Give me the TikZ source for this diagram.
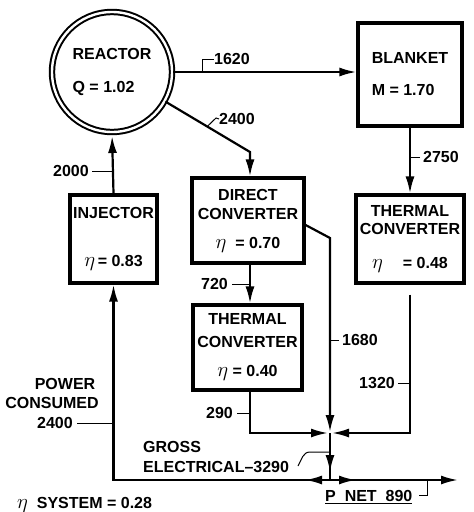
\documentclass[tikz,border=0pt]{standalone}
\usepackage{fontspec}
\setmainfont{Liberation Sans}
\usetikzlibrary{arrows.meta,calc}
\newcommand{\etaS}{{\fontsize{21}{18}\selectfont$\eta$}}
\begin{document}
\begin{tikzpicture}[x=1pt,y=-1pt,
  font=\fontsize{16}{18}\selectfont\bfseries,
  box/.style={draw, line width=3.2pt, inner sep=0pt, align=center},
  conn/.style={line width=2.2pt},
  flowtip/.style={-{Latex[length=17pt,width=9pt]}},
  tick/.style={line width=1pt},
  lbl/.style={inner sep=0pt}
]
\useasboundingbox (0,0) rectangle (474,512);

% main blocks
\node[draw, circle, line width=2pt, double, double distance=2.4pt, minimum size=120pt, inner sep=0pt, align=left] (reactor) at (112,72) {REACTOR\\[15pt]Q = 1.02};
\node[box, minimum width=104pt, minimum height=103pt, align=left] (blanket) at (410,74.5) {BLANKET\\[14pt]M = 1.70};
\node[box, minimum width=112pt, minimum height=85pt] (direct) at (248,220.5) {DIRECT\\[1pt]CONVERTER\\[11pt]\etaS\ \;= 0.70};
\node[box, minimum width=109pt, minimum height=85pt] (thermB) at (247.5,347.5) {THERMAL\\[5pt]CONVERTER\\[11pt]\etaS\ = 0.40};
\node[box, minimum width=108pt, minimum height=88pt] (thermA) at (410,239) {THERMAL\\[-0.5pt]CONVERTER\\[16pt]\etaS\hspace{20pt}= 0.48};
\node[box, minimum width=87pt, minimum height=88pt] (injector) at (113.5,239) {INJECTOR\\[30pt]\etaS\,= 0.83};

% routing points
\coordinate (jn) at (330,433);
\coordinate (bot) at (330,480);
\coordinate (pcc) at (113.5,480);
\coordinate (netend) at (458,480);
\coordinate (b2) at (250,152);
\coordinate (b4) at (330,238);
\coordinate (md) at (330,472);
\coordinate (ml) at (305,480);
\coordinate (mr) at (356,480);

% connectors
\draw[conn,flowtip] (reactor.east) -- (reactor.east -| blanket.west);
\draw[conn,flowtip] (reactor.-29) -- (b2) -- (b2 |- direct.north);
\draw[conn,flowtip] (direct.south -| b2) -- (thermB.north -| b2);
\draw[conn,flowtip,shorten >=1pt] ($(direct.east)+(0,4.5)$) -- (b4) -- (jn);
\draw[conn,flowtip,shorten >=2pt] (thermB.south -| b2) |- (jn);
\draw[conn,flowtip,shorten >=2pt] ($(thermA.south)+(0,10)$) |- (jn);
\draw[conn,flowtip] (blanket.south) -- (thermA.north);
\draw[conn,flowtip,shorten >=3pt] (injector.north) -- (reactor.south);
\draw[conn] (jn) -- (bot);
\draw[conn,flowtip] (jn) -- (md);
\draw[conn,flowtip] (bot) -- (pcc) -- (injector.south);
\draw[conn,flowtip] (bot) -- (ml);
\draw[conn,flowtip] (bot) -- (netend);
\draw[conn,flowtip] (bot) -- (mr);

% flow labels
\node[lbl,anchor=west] (l1620) at (214,59) {1620};
\draw[tick] (l1620.west) -| (202,72);
\node[lbl,anchor=west] (l2400) at (219,119) {2400};
\draw[tick] (l2400.west) -- (216,118) -- (207,126.7);
\node[lbl,anchor=east] (l720) at (228,284) {720};
\draw[tick] (232,284) -- (250,284);
\node[lbl,anchor=west] (l1680) at (342,340) {1680};
\draw[tick] (l1680.west) ++(-3,0) -- (330,340);
\node[lbl,anchor=west] (l2750) at (423,157) {2750};
\draw[tick] (l2750.west) ++(-3,0) -- (410,157);
\node[lbl,anchor=east] (l1320) at (395,383) {1320};
\draw[tick] (398,383) -- (410,383);
\node[lbl,anchor=east] (l290) at (233,413) {290};
\draw[tick] (237,413) -- (250,413);
\node[lbl,anchor=east] (l2000) at (89,171) {2000};
\draw[tick] (92,171) -- (113.5,171);

\node[lbl] (pc1) at (65,384) {POWER};
\node[lbl] (pc2) at (52,403) {CONSUMED};
\node[lbl,anchor=east] (pc3) at (73,423) {2400};
\draw[tick] (77,423) -- (113.5,423);

\node[lbl,anchor=west] (ge1) at (143,447) {GROSS};
\node[lbl,anchor=west] (ge2) at (143,467) {ELECTRICAL–3290};
\draw[tick] (298,466) to[out=60,in=180] (310,452) -- (330,452);

\node[lbl,anchor=west] (pnet) at (325,497) {\underline{P\ \ NET\ \ 890}};
\draw[tick] (419,495) -- (427,495) -- (427,480);

\node[lbl,anchor=west] (sys) at (17,505) {\etaS\ \ SYSTEM = 0.28};
\end{tikzpicture}
\end{document}
